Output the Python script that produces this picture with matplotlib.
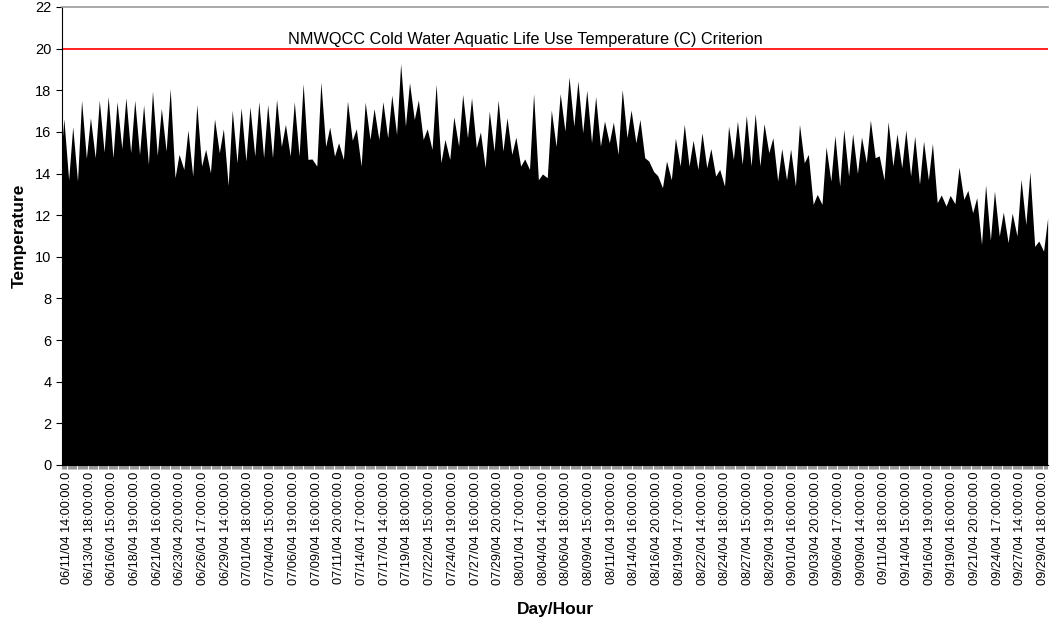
import numpy as np
import matplotlib.pyplot as plt

plt.rcParams['font.family'] = ['Liberation Sans', 'DejaVu Sans']

# daily high / morning low, one value per day from 06/11/04
day_max = [16.63, 16.25, 17.52, 16.68, 17.52, 17.70, 17.45, 17.64, 17.52, 17.30,
           17.96, 17.13, 18.08, 14.92, 16.09, 17.32, 15.16, 16.63, 16.15, 17.04,
           17.16, 17.21, 17.45, 17.32, 17.56, 16.36, 17.45, 18.32, 14.70, 18.40,
           16.23, 15.48, 17.48, 16.15, 17.43, 17.12, 17.45, 17.77, 19.28, 18.37,
           17.53, 16.15, 18.29, 15.64, 16.73, 17.80, 17.64, 16.00, 17.00, 17.52,
           16.68, 15.75, 14.70, 17.84, 13.98, 17.05, 17.84, 18.64, 18.45, 18.00,
           17.70, 16.52, 16.47, 18.04, 17.05, 16.60, 14.60, 13.90, 14.60, 15.70,
           16.36, 15.60, 15.96, 15.20, 14.20, 16.28, 16.52, 16.80, 16.89, 16.40,
           15.72, 15.20, 15.18, 16.36, 14.92, 13.00, 15.28, 15.83, 16.12, 15.91,
           15.75, 16.57, 14.85, 16.49, 15.91, 16.09, 15.80, 15.56, 15.45, 12.97,
           12.95, 14.31, 13.19, 12.84, 13.45, 13.16, 12.15, 12.10, 13.72, 14.08,
           10.76, 11.86]
day_min = [14.10, 13.70, 13.64, 14.73, 14.76, 15.03, 14.76, 15.20, 15.00, 14.92,
           14.44, 14.87, 15.08, 13.80, 14.20, 13.88, 14.36, 14.04, 15.00, 13.43,
           14.52, 14.60, 14.84, 14.76, 14.76, 15.30, 14.84, 14.84, 14.68, 14.36,
           15.30, 14.84, 14.68, 15.60, 14.36, 15.64, 15.64, 15.72, 15.88, 16.28,
           16.60, 15.64, 15.16, 14.52, 14.68, 15.32, 15.72, 15.24, 14.28, 15.08,
           15.08, 14.92, 14.36, 14.20, 13.70, 13.80, 15.30, 16.04, 16.28, 15.96,
           15.48, 15.32, 15.48, 14.92, 15.72, 15.48, 14.76, 14.10, 13.32, 13.70,
           14.36, 14.36, 14.20, 14.28, 13.88, 13.40, 14.68, 14.44, 14.36, 14.36,
           15.00, 13.64, 13.70, 13.40, 14.52, 12.52, 12.52, 13.64, 13.40, 13.88,
           14.00, 14.52, 14.76, 13.70, 14.36, 14.28, 13.88, 13.48, 13.70, 12.60,
           12.44, 12.55, 12.76, 12.12, 10.60, 10.80, 11.00, 10.68, 11.00, 11.55,
           10.50, 10.27]

tick_labels = ['06/11/04 14:00:00.0', '06/13/04 18:00:00.0', '06/16/04 15:00:00.0',
               '06/18/04 19:00:00.0', '06/21/04 16:00:00.0', '06/23/04 20:00:00.0',
               '06/26/04 17:00:00.0', '06/29/04 14:00:00.0', '07/01/04 18:00:00.0',
               '07/04/04 15:00:00.0', '07/06/04 19:00:00.0', '07/09/04 16:00:00.0',
               '07/11/04 20:00:00.0', '07/14/04 17:00:00.0', '07/17/04 14:00:00.0',
               '07/19/04 18:00:00.0', '07/22/04 15:00:00.0', '07/24/04 19:00:00.0',
               '07/27/04 16:00:00.0', '07/29/04 20:00:00.0', '08/01/04 17:00:00.0',
               '08/04/04 14:00:00.0', '08/06/04 18:00:00.0', '08/09/04 15:00:00.0',
               '08/11/04 19:00:00.0', '08/14/04 16:00:00.0', '08/16/04 20:00:00.0',
               '08/19/04 17:00:00.0', '08/22/04 14:00:00.0', '08/24/04 18:00:00.0',
               '08/27/04 15:00:00.0', '08/29/04 19:00:00.0', '09/01/04 16:00:00.0',
               '09/03/04 20:00:00.0', '09/06/04 17:00:00.0', '09/09/04 14:00:00.0',
               '09/11/04 18:00:00.0', '09/14/04 15:00:00.0', '09/16/04 19:00:00.0',
               '09/19/04 16:00:00.0', '09/21/04 20:00:00.0', '09/24/04 17:00:00.0',
               '09/27/04 14:00:00.0', '09/29/04 18:00:00.0']

criterion = 20
criterion_text = 'NMWQCC Cold Water Aquatic Life Use Temperature (C) Criterion'

# hours counted from 06/11/04 00:00; lows in the morning, highs in the evening
days = np.arange(len(day_max))
hours = np.column_stack([days * 24 + 8, days * 24 + 19]).ravel()
temps = np.column_stack([day_min, day_max]).ravel()

start_hour = 14
span = 2644  # 06/11 14:00 -> 09/29 18:00
tick_pos = start_hour + 13 + np.arange(len(tick_labels)) * span / (len(tick_labels) - 1)

fig = plt.figure(figsize=(10.5, 6.2), dpi=100)
ax = fig.add_axes([62 / 1050, 155 / 620, 986 / 1050, 458 / 620])

ax.fill_between(hours, 0, temps, color='black', lw=0)
ax.axhline(criterion, color='#ff2020', lw=1.4)
ax.text(0.47, 20.45, criterion_text, transform=ax.get_yaxis_transform(),
        ha='center', va='center', fontsize=11.7)

ax.set_xlim(start_hour, hours[-1] + 1)
ax.set_ylim(0, 22)
ax.set_yticks(np.arange(0, 23, 2))
ax.tick_params(axis='y', labelsize=10.5, length=4, direction='out')

ax.set_xticks(tick_pos)
ax.set_xticklabels(tick_labels, rotation=90, fontsize=9.2)
ax.tick_params(axis='x', length=0, pad=5)
ax.set_xticks(np.arange(start_hour, hours[-1], 3), minor=True)
ax.tick_params(axis='x', which='minor', length=3, width=0.4, color='#444444')

ax.spines['right'].set_visible(False)
ax.spines['top'].set_color('#999999')
ax.spines['top'].set_linewidth(1.2)

ax.set_ylabel('Temperature', fontsize=12.5, fontweight='bold', labelpad=6)
ax.set_xlabel('Day/Hour', fontsize=12.5, fontweight='bold', labelpad=12)

fig.savefig('out.png', dpi=100)
